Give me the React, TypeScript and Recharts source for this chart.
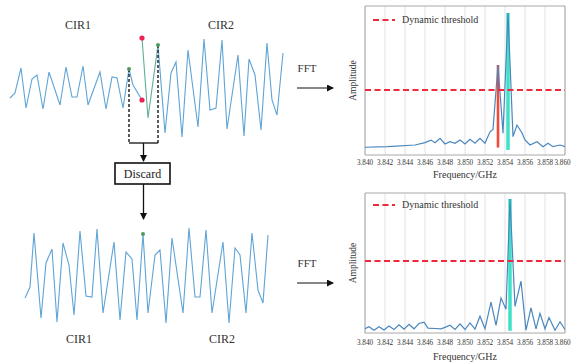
import React from "react";
import {
  ComposedChart,
  LineChart,
  Line,
  XAxis,
  YAxis,
  CartesianGrid,
  ReferenceLine,
  ReferenceArea,
  Legend,
} from "recharts";

const SERIF = '"Liberation Serif", "DejaVu Serif", serif';
const WAVE = "#5fa4d6";
const WAVE_CUT = "#5fae98";
const CUT_RED = "#ee2255";
const JOIN_GREEN = "#4f9a5c";
const SPEC_BLUE = "#4a86bd";
const THRESH_RED = "#f0283c";

type Pair = [number, number];

// received trace, [sample, amplitude]
const cir1Raw: Pair[] = [
  [10, -0.46], [15, -0.36], [21, 0.14], [26, -0.66], [32, -0.08], [37, 0], [43, -0.68],
  [49, 0.06], [60, -0.6], [66, 0.16], [72, -0.44], [77, -0.44], [83, 0.18], [88, -0.6],
  [100, 0.06], [106, -0.68], [112, -0.04], [117, -0.06], [123, -0.66], [129, 0.12],
  [133, -0.2], [142, -0.5],
];
const discardedRaw: Pair[] = [[142, 0.74], [148, -0.86], [158, 0.6]];
const cir2Raw: Pair[] = [
  [158, 0.6], [165, -1.16], [171, 0.04], [176, 0.26], [182, -1.24], [188, 0.5], [198, -1.04],
  [204, 0.72], [210, -0.7], [216, -0.66], [222, 0.7], [227, -1.08], [238, 0.4], [244, -1.22],
  [249, 0.32], [255, 0], [261, -1.1], [267, 0.64], [272, -0.5], [277, -0.8], [283, 0.44],
];
const cutMarks: Pair[] = [[142, -0.5], [142, 0.74]];
const joinMarks: Pair[] = [[129, 0.12], [158, 0.6]];
const bracketLevel = -1.36;

// trace after the discarded part is removed
const mergedRaw: Pair[] = [
  [25, -0.56], [30, -0.34], [34, 0.74], [41, -0.96], [46, 0.14], [52, 0.42], [57, -1.04],
  [63, 0.54], [69, 0.1], [74, -0.9], [80, 0.78], [86, -0.52], [92, -0.54], [97, 0.82],
  [103, -0.86], [114, 0.56], [120, -1.0], [126, 0.36], [132, 0.22], [137, -1.0], [143, 0.72],
  [148, -0.86], [155, 0.3], [160, 0.4], [166, -1.06], [172, 0.64], [183, -0.86], [189, 0.84],
  [195, -0.54], [200, -0.54], [206, 0.8], [212, -0.86], [223, 0.56], [229, -1.06], [235, 0.44],
  [240, 0.3], [246, -0.86], [252, 0.74], [258, -0.4], [263, -0.66], [268, 0.7],
];
const mergedJoin: Pair[] = [[143, 0.72]];

// spectra, [frequency GHz, normalised amplitude]
const freqTicks = [3.84, 3.842, 3.844, 3.846, 3.848, 3.85, 3.852, 3.854, 3.856, 3.858, 3.86];

const spectrumBefore: Pair[] = [
  [3.84, 0.052], [3.8423, 0.056], [3.845, 0.067], [3.846, 0.083], [3.8466, 0.1],
  [3.847, 0.083], [3.8475, 0.112], [3.848, 0.074], [3.8485, 0.089], [3.849, 0.079],
  [3.8495, 0.101], [3.85, 0.074], [3.8505, 0.105], [3.851, 0.079], [3.8515, 0.112],
  [3.852, 0.079], [3.8525, 0.156], [3.8528, 0.172], [3.8533, 0.604], [3.8538, 0.146],
  [3.8543, 0.953], [3.8548, 0.123], [3.8552, 0.201], [3.8557, 0.148], [3.856, 0.101],
  [3.8565, 0.067], [3.8572, 0.089], [3.8578, 0.056], [3.8583, 0.079], [3.8588, 0.056],
  [3.8595, 0.067], [3.86, 0.056],
];
const thresholdBefore = 0.436;
const falsePeakBefore: Pair[] = [[3.8533, 0.05], [3.8533, 0.604]];
const truePeakBefore: Pair[] = [[3.8543, 0.034], [3.8543, 0.953]];

const spectrumAfter: Pair[] = [
  [3.84, 0.03], [3.8404, 0.045], [3.8409, 0.02], [3.8414, 0.045], [3.8419, 0.022],
  [3.8424, 0.05], [3.8429, 0.025], [3.8434, 0.058], [3.8439, 0.028], [3.8444, 0.062],
  [3.8449, 0.03], [3.8454, 0.068], [3.8459, 0.078], [3.8463, 0.035], [3.847, 0.032],
  [3.8476, 0.03], [3.848, 0.04], [3.8485, 0.055], [3.849, 0.025], [3.8495, 0.065],
  [3.85, 0.025], [3.8505, 0.072], [3.851, 0.028], [3.8515, 0.12], [3.852, 0.03],
  [3.8526, 0.22], [3.8531, 0.055], [3.8536, 0.25], [3.8541, 0.17], [3.8545, 0.957],
  [3.855, 0.19], [3.8556, 0.37], [3.8561, 0.02], [3.8566, 0.18], [3.8571, 0.03],
  [3.8575, 0.14], [3.858, 0.03], [3.8584, 0.11], [3.859, 0.02], [3.8595, 0.08], [3.86, 0.025],
];
const thresholdAfter = 0.514;
const truePeakAfter: Pair[] = [[3.8545, 0.016], [3.8545, 0.957]];

const toTV = (a: Pair[]) => a.map(([t, v]) => ({ t, v }));
const toFV = (a: Pair[]) => a.map(([f, v]) => ({ f, v }));

const dot = (color: string, r: number) => (p: any) => (
  <circle key={`${p.cx}-${p.cy}`} cx={p.cx} cy={p.cy} r={r} fill={color} />
);

function Trace({ data, color }: { data: Pair[]; color: string }) {
  return (
    <Line data={toTV(data)} dataKey="v" stroke={color} strokeWidth={1.1} dot={false} activeDot={false} isAnimationActive={false} />
  );
}

// markers only, no connecting stroke
function Marks({ data, color, r }: { data: Pair[]; color: string; r: number }) {
  return (
    <Line data={toTV(data)} dataKey="v" stroke="none" dot={dot(color, r)} activeDot={false} isAnimationActive={false} />
  );
}

// last label is nudged left so it stays inside the page
function FreqTick(props: any) {
  const { x, y, payload, index } = props;
  const last = index === freqTicks.length - 1;
  return (
    <text x={last ? x - 2.5 : x} y={y} dy="0.71em" textAnchor="middle" fontFamily={SERIF} fontSize={7.2} fill="#333">
      {Number(payload.value).toFixed(3)}
    </text>
  );
}

function ThresholdKey() {
  return (
    <div style={{ display: "flex", alignItems: "center", fontFamily: SERIF, fontSize: 10, color: "#333", lineHeight: "12px", whiteSpace: "nowrap" }}>
      <svg width={22} height={6}>
        <line x1={0} y1={3} x2={22} y2={3} stroke={THRESH_RED} strokeWidth={2} strokeDasharray="6 3.5" />
      </svg>
      <span style={{ marginLeft: 7 }}>Dynamic threshold</span>
    </div>
  );
}

type Stem = { data: Pair[]; color: string; width: number };

function Spectrum(props: {
  top: number;
  height: number;
  margin: { top: number; right: number; bottom: number; left: number };
  axisHeight: number;
  tickMargin: number;
  series: Pair[];
  threshold: number;
  stems: Stem[];
}) {
  const { top, height, margin, axisHeight, tickMargin, series, threshold, stems } = props;
  return (
    <div style={{ position: "absolute", left: 340, top }}>
      <LineChart width={231} height={height} margin={margin}>
        <CartesianGrid horizontal={false} stroke="#dadada" strokeWidth={0.8} />
        <XAxis
          type="number"
          dataKey="f"
          domain={[3.84, 3.86]}
          ticks={freqTicks}
          interval={0}
          allowDataOverflow
          tick={<FreqTick />}
          tickLine={false}
          axisLine={false}
          tickSize={0}
          tickMargin={tickMargin}
          height={axisHeight}
          label={{ value: "Frequency/GHz", position: "insideBottom", offset: 0, style: { fontFamily: SERIF, fontSize: 10, fill: "#333" } }}
        />
        <YAxis
          type="number"
          dataKey="v"
          domain={[0, 1]}
          allowDataOverflow
          tick={false}
          tickLine={false}
          axisLine={false}
          width={25}
          label={{ value: "Amplitude", angle: -90, position: "center", style: { fontFamily: SERIF, fontSize: 9.5, fill: "#333", textAnchor: "middle" } }}
        />
        <ReferenceArea x1={3.84} x2={3.86} y1={0} y2={1} fill="none" stroke="#a8a8a8" strokeWidth={1} />
        {stems.map((s, i) => (
          <Line key={i} data={toFV(s.data)} dataKey="v" stroke={s.color} strokeWidth={s.width} dot={false} activeDot={false} isAnimationActive={false} />
        ))}
        <Line data={toFV(series)} dataKey="v" stroke={SPEC_BLUE} strokeWidth={1.2} dot={false} activeDot={false} isAnimationActive={false} />
        <ReferenceLine y={threshold} stroke={THRESH_RED} strokeWidth={2} strokeDasharray="6 3.5" />
        <Legend
          layout="horizontal"
          align="center"
          verticalAlign="middle"
          content={() => <ThresholdKey />}
          wrapperStyle={{ left: 33, top: 14, width: "auto" }}
        />
      </LineChart>
    </div>
  );
}

export default function App() {
  return (
    <div style={{ position: "absolute", left: 0, top: 0, width: 571, height: 362, background: "#fff", overflow: "hidden" }}>
      {/* received trace with the corrupted junction */}
      <div style={{ position: "absolute", left: 0, top: 0 }}>
        <ComposedChart width={300} height={150} margin={{ top: 0, right: 0, bottom: 0, left: 0 }}>
          <XAxis type="number" dataKey="t" domain={[0, 300]} hide />
          <YAxis type="number" dataKey="v" domain={[-1.5, 1.5]} hide width={0} />
          {Trace({ data: cir1Raw, color: WAVE })}
          {Trace({ data: discardedRaw, color: WAVE_CUT })}
          {Trace({ data: cir2Raw, color: WAVE })}
          {joinMarks.map(([t, v]) => (
            <ReferenceLine key={t} segment={[{ x: t, y: v }, { x: t, y: bracketLevel }]} stroke="#333" strokeWidth={1.6} strokeDasharray="3 2" />
          ))}
          <ReferenceLine segment={[{ x: joinMarks[0][0], y: bracketLevel }, { x: joinMarks[1][0], y: bracketLevel }]} stroke="#222" strokeWidth={1.4} />
          {Marks({ data: cutMarks, color: CUT_RED, r: 2.6 })}
          {Marks({ data: joinMarks, color: JOIN_GREEN, r: 2 })}
        </ComposedChart>
      </div>

      {/* trace after removal */}
      <div style={{ position: "absolute", left: 0, top: 195 }}>
        <ComposedChart width={300} height={150} margin={{ top: 0, right: 0, bottom: 0, left: 0 }}>
          <XAxis type="number" dataKey="t" domain={[0, 300]} hide />
          <YAxis type="number" dataKey="v" domain={[-1.5, 1.5]} hide width={0} />
          {Trace({ data: mergedRaw, color: WAVE })}
          {Marks({ data: mergedJoin, color: JOIN_GREEN, r: 2 })}
        </ComposedChart>
      </div>

      <Spectrum
        top={0}
        height={180}
        margin={{ top: 6, right: 6, bottom: 2, left: 0 }}
        axisHeight={23}
        tickMargin={5}
        series={spectrumBefore}
        threshold={thresholdBefore}
        stems={[
          { data: falsePeakBefore, color: "#f04a3a", width: 2.6 },
          { data: truePeakBefore, color: "#3fe0c8", width: 3.5 },
        ]}
      />
      <Spectrum
        top={185}
        height={177}
        margin={{ top: 8, right: 6, bottom: 2, left: 0 }}
        axisHeight={27}
        tickMargin={7}
        series={spectrumAfter}
        threshold={thresholdAfter}
        stems={[{ data: truePeakAfter, color: "#3fe0c8", width: 3.5 }]}
      />

      {/* labels, arrows and the discard box */}
      <svg width={571} height={362} style={{ position: "absolute", left: 0, top: 0, pointerEvents: "none" }}>
        <defs>
          <marker id="head" markerWidth={7} markerHeight={7} refX={6} refY={3.5} orient="auto" markerUnits="userSpaceOnUse">
            <path d="M0,0 L7,3.5 L0,7 z" fill="#111" />
          </marker>
        </defs>
        <g fontFamily={SERIF} fill="#333" fontSize={12} textAnchor="middle">
          <text x={78} y={29}>CIR1</text>
          <text x={221} y={29}>CIR2</text>
          <text x={79} y={343}>CIR1</text>
          <text x={222} y={343}>CIR2</text>
          <text x={307} y={72} fontSize={11}>FFT</text>
          <text x={307} y={267} fontSize={11}>FFT</text>
        </g>
        <line x1={297} y1={88} x2={333} y2={88} stroke="#111" strokeWidth={1.2} markerEnd="url(#head)" />
        <line x1={297} y1={283} x2={333} y2={283} stroke="#111" strokeWidth={1.2} markerEnd="url(#head)" />
        <line x1={143.5} y1={143} x2={143.5} y2={161} stroke="#111" strokeWidth={1.3} markerEnd="url(#head)" />
        <rect x={115} y={163} width={55} height={21} fill="#fff" stroke="#111" strokeWidth={1.6} />
        <text x={142.5} y={178} fontFamily={SERIF} fontSize={12} fill="#222" textAnchor="middle">Discard</text>
        <line x1={143.5} y1={184} x2={143.5} y2={219} stroke="#111" strokeWidth={1.3} markerEnd="url(#head)" />
      </svg>
    </div>
  );
}
